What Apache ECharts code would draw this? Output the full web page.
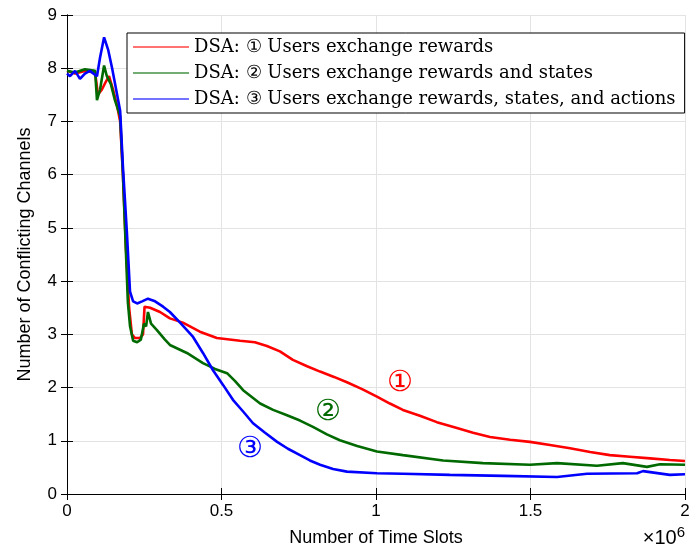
<!DOCTYPE html>
<html>
<head>
<meta charset="utf-8">
<script src="https://cdn.jsdelivr.net/npm/echarts@6/dist/echarts.min.js"></script>
<style>
  html, body { margin: 0; padding: 0; background: #fff; }
  #main { width: 691px; height: 549px; }
</style>
</head>
<body>
<div id="main"></div>
<script>
// x in units of 1e6 time slots
var redX = [0, 0.026, 0.058, 0.091, 0.100, 0.113, 0.126, 0.136, 0.149, 0.162, 0.172, 0.181, 0.191, 0.201, 0.210, 0.220, 0.236, 0.246, 0.251, 0.269, 0.301, 0.333, 0.375, 0.430, 0.485, 0.560, 0.608, 0.647, 0.689, 0.731, 0.777, 0.819, 0.864, 0.906, 0.955, 1.003, 1.045, 1.087, 1.142, 1.197, 1.262, 1.314, 1.369, 1.434, 1.498, 1.563, 1.628, 1.693, 1.757, 1.822, 1.887, 1.951, 2.0];
var redY = [7.95, 7.9, 7.95, 7.92, 7.5, 7.6, 7.75, 7.85, 7.6, 7.3, 7.0, 6.0, 4.6, 3.5, 3.0, 2.93, 2.93, 3.0, 3.52, 3.5, 3.42, 3.3, 3.22, 3.05, 2.93, 2.88, 2.85, 2.78, 2.68, 2.52, 2.4, 2.3, 2.2, 2.1, 1.97, 1.83, 1.7, 1.58, 1.47, 1.35, 1.24, 1.15, 1.07, 1.02, 0.98, 0.92, 0.86, 0.79, 0.73, 0.70, 0.67, 0.64, 0.62];

var greenX = [0, 0.026, 0.058, 0.091, 0.097, 0.107, 0.120, 0.129, 0.142, 0.155, 0.172, 0.181, 0.191, 0.197, 0.204, 0.214, 0.227, 0.239, 0.249, 0.256, 0.262, 0.272, 0.291, 0.317, 0.333, 0.388, 0.440, 0.479, 0.518, 0.544, 0.570, 0.625, 0.667, 0.712, 0.754, 0.796, 0.841, 0.883, 0.939, 1.003, 1.087, 1.217, 1.346, 1.498, 1.586, 1.715, 1.799, 1.877, 1.919, 2.0];
var greenY = [7.95, 7.92, 7.98, 7.95, 7.4, 7.6, 8.05, 7.85, 7.7, 7.4, 7.1, 6.0, 4.5, 3.6, 3.15, 2.88, 2.85, 2.9, 3.2, 3.15, 3.42, 3.2, 3.08, 2.9, 2.8, 2.65, 2.46, 2.35, 2.27, 2.12, 1.95, 1.7, 1.58, 1.48, 1.38, 1.26, 1.12, 1.01, 0.9, 0.8, 0.73, 0.63, 0.58, 0.55, 0.58, 0.53, 0.58, 0.51, 0.56, 0.55];

var blueX = [0, 0.0097, 0.026, 0.042, 0.058, 0.074, 0.097, 0.107, 0.120, 0.133, 0.146, 0.159, 0.172, 0.181, 0.194, 0.204, 0.214, 0.227, 0.243, 0.262, 0.285, 0.311, 0.333, 0.366, 0.408, 0.440, 0.472, 0.505, 0.537, 0.570, 0.602, 0.641, 0.680, 0.715, 0.754, 0.786, 0.819, 0.861, 0.906, 1.003, 1.087, 1.239, 1.411, 1.586, 1.683, 1.845, 1.864, 1.951, 2.0];
var blueY = [7.9, 7.85, 7.95, 7.8, 7.9, 7.95, 7.85, 8.2, 8.58, 8.35, 8.0, 7.6, 7.2, 6.15, 4.9, 3.8, 3.62, 3.58, 3.62, 3.67, 3.62, 3.52, 3.42, 3.22, 2.95, 2.65, 2.33, 2.05, 1.77, 1.55, 1.33, 1.15, 0.98, 0.85, 0.73, 0.63, 0.55, 0.47, 0.42, 0.39, 0.38, 0.36, 0.34, 0.32, 0.38, 0.39, 0.43, 0.36, 0.37];

var seriesNames = [
  'DSA: \u2460 Users exchange rewards',
  'DSA: \u2461 Users exchange rewards and states',
  'DSA: \u2462 Users exchange rewards, states, and actions'
];
var seriesColors = ['#ff0000', '#006a00', '#0000ff'];
var xTicks = [0, 0.5, 1, 1.5, 2];
var yTicks = [0, 1, 2, 3, 4, 5, 6, 7, 8, 9];
// circled labels: [text, x, y]
var notes = [['\u2460', 1.078, 2.07], ['\u2461', 0.845, 1.54], ['\u2462', 0.592, 0.83]];

function pairs(xs, ys) {
  var out = [];
  for (var i = 0; i < xs.length; i++) out.push([xs[i], ys[i]]);
  return out;
}

var allX = [redX, greenX, blueX];
var allY = [redY, greenY, blueY];
var series = [];
for (var i = 0; i < 3; i++) {
  series.push({
    name: seriesNames[i],
    type: 'line',
    data: pairs(allX[i], allY[i]),
    showSymbol: false,
    symbol: 'none',
    animation: false,
    lineStyle: { color: seriesColors[i], width: 2.6 },
    itemStyle: { color: seriesColors[i] },
    markPoint: {
      symbol: 'circle',
      symbolSize: 0,
      data: [{ coord: [notes[i][1], notes[i][2]] }],
      label: {
        show: true,
        formatter: notes[i][0],
        color: seriesColors[i],
        fontSize: 29,
        fontFamily: 'DejaVu Sans'
      }
    }
  });
}

var axisFont = { color: '#000', fontSize: 17, fontFamily: 'Liberation Sans' };

var myChart = echarts.init(document.getElementById('main'));
var option = {
  backgroundColor: '#fff',
  animation: false,
  grid: { left: 67, top: 15, right: 6, bottom: 55, outerBoundsMode: 'none', containLabel: false },
  legend: {
    orient: 'vertical',
    left: 127,
    top: 33,
    padding: [5, 9, 5, 6],
    itemGap: 8,
    itemWidth: 56,
    itemHeight: 2,
    icon: 'rect',
    backgroundColor: '#fff',
    borderColor: '#000',
    borderWidth: 1,
    borderRadius: 0,
    itemStyle: { opacity: 0.55 },
    textStyle: { color: '#000', fontSize: 18, fontFamily: 'DejaVu Serif', lineHeight: 18, padding: [0, 0, 0, 0] },
    data: seriesNames
  },
  xAxis: [{
    type: 'value',
    min: 0, max: 2, interval: 0.5,
    name: 'Number of Time Slots',
    nameLocation: 'middle',
    nameGap: 35,
    nameTextStyle: { color: '#000', fontSize: 18, fontFamily: 'Liberation Sans' },
    axisLine: { lineStyle: { color: '#000', width: 1 } },
    axisTick: { inside: true, length: 6, lineStyle: { color: '#000' } },
    axisLabel: Object.assign({ margin: 9, formatter: function (v) { return xTicks.indexOf(v) >= 0 ? String(v) : ''; } }, axisFont),
    splitLine: { show: true, lineStyle: { color: '#e3e3e3', width: 1 } }
  }, {
    type: 'value', position: 'top',
    min: 0, max: 2, interval: 0.5,
    axisLine: { show: true, lineStyle: { color: '#000', width: 1 } },
    axisTick: { inside: true, length: 6, lineStyle: { color: '#000' } },
    axisLabel: { show: false },
    splitLine: { show: false }
  }],
  yAxis: [{
    type: 'value',
    min: 0, max: 9, interval: 1,
    name: 'Number of Conflicting Channels',
    nameLocation: 'middle',
    nameGap: 33,
    nameTextStyle: { color: '#000', fontSize: 18, fontFamily: 'Liberation Sans' },
    axisLine: { show: true, lineStyle: { color: '#000', width: 1 } },
    axisTick: { show: true, inside: true, length: 6, lineStyle: { color: '#000' } },
    axisLabel: Object.assign({ margin: 10, formatter: function (v) { return yTicks.indexOf(v) >= 0 ? String(v) : ''; } }, axisFont),
    splitLine: { show: true, lineStyle: { color: '#e3e3e3', width: 1 } }
  }, {
    type: 'value', position: 'right',
    min: 0, max: 9, interval: 1,
    axisLine: { show: true, lineStyle: { color: '#000', width: 1 } },
    axisTick: { show: true, inside: true, length: 6, lineStyle: { color: '#000' } },
    axisLabel: { show: false },
    splitLine: { show: false }
  }],
  graphic: [{
    type: 'text',
    right: 6,
    top: 525,
    style: {
      text: '\u00d710{s|6}',
      fill: '#000',
      fontSize: 20,
      fontFamily: 'Liberation Sans',
      rich: { s: { fontSize: 15, fontFamily: 'Liberation Sans', fill: '#000', verticalAlign: 'top', padding: [0, 0, 12, 0] } }
    }
  }],
  series: series
};
myChart.setOption(option);
</script>
</body>
</html>
